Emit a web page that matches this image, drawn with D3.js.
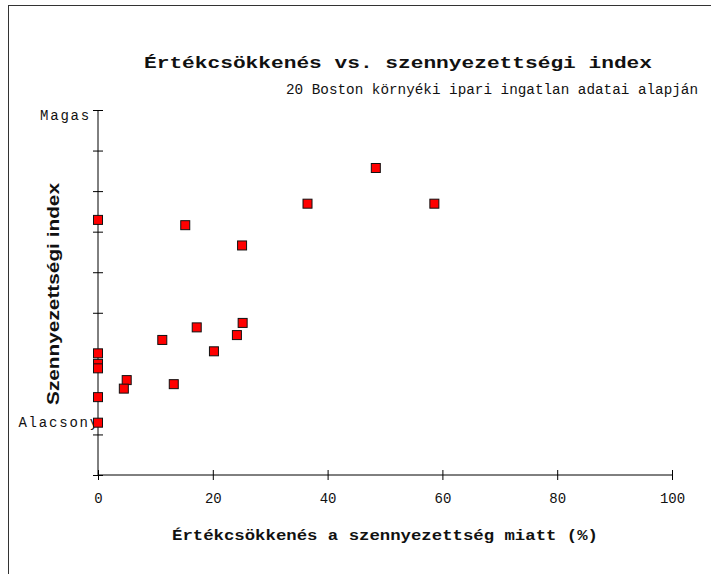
<!DOCTYPE html>
<html>
<head>
<meta charset="utf-8">
<script src="https://cdn.jsdelivr.net/npm/d3@7"></script>
<style>
	body { margin: 0; background: #fff; }
	svg { display: block; }
</style>
</head>
<body>
<div id="chart"></div>
<script>
"use strict";
// adatok
const lossPct = [0, 15.2, 25.1, 36.5, 48.4, 58.6, 17.2, 25.2, 24.2, 11.2, 20.2, 0, 0, 0, 5.0, 4.5, 13.2, 0, 0];
const pollution = [6.29, 6.16, 5.66, 6.69, 7.57, 6.69, 3.64, 3.75, 3.45, 3.33, 3.05, 3.00, 2.74, 2.63, 2.34, 2.13, 2.24, 1.92, 1.29];
const xTicks = [0, 20, 40, 60, 80, 100];
const yTicks = [0, 1, 2, 3, 4, 5, 6, 7, 8, 9];
const yLabels = [{ v: 8.87, text: "Magas" }, { v: 1.3, text: "Alacsony" }];

const W = 711, H = 574;
const mono = "'Liberation Mono', 'Courier New', monospace";

let svg = d3.select("#chart").append("svg")
	.attr("width", W)
	.attr("height", H);

// keret
svg.append("rect")
	.attr("x", 8.5).attr("y", 5.5)
	.attr("width", W + 10).attr("height", H + 10)
	.style("fill", "none")
	.style("stroke", "#333")
	.style("stroke-width", "1px");

let x = d3.scaleLinear().domain([0, 100]).range([98, 672]);
let y = d3.scaleLinear().domain([0, 9]).range([475, 110]);

// x tengely
let xAxis = svg.append("g")
	.attr("transform", "translate(0," + y(0) + ")")
	.call(d3.axisBottom(x).tickValues(xTicks).tickSize(5).tickPadding(13).tickFormat(d3.format("d")));
xAxis.select(".domain").attr("d", "M" + x(0) + ",0H" + x(100)).style("stroke", "#000");
xAxis.selectAll(".tick line").attr("y1", -5).attr("y2", 5).style("stroke", "#000");
xAxis.selectAll(".tick text")
	.style("font-family", mono)
	.style("font-size", "14px")
	.style("fill", "#111");

// y tengely
let yAxis = svg.append("g")
	.attr("transform", "translate(" + x(0) + ",0)")
	.call(d3.axisLeft(y).tickValues(yTicks).tickSize(5).tickFormat(""));
yAxis.select(".domain").attr("d", "M0," + y(9) + "V" + y(0)).style("stroke", "#000");
yAxis.selectAll(".tick line").attr("x1", -5).attr("x2", 5).style("stroke", "#000");

svg.selectAll(".ylab")
	.data(yLabels)
	.enter()
	.append("text")
	.attr("class", "ylab")
	.attr("x", function (d, i) { return i == 0 ? x(0) - 7 : x(0) + 2; })
	.attr("y", function (d) { return y(d.v); })
	.attr("dy", "0.35em")
	.attr("text-anchor", "end")
	.style("font-family", mono)
	.style("font-size", "14px")
	.style("letter-spacing", "1.8px")
	.style("fill", "#111")
	.text(function (d) { return d.text; });

// pontok
let pts = lossPct.map(function (v, i) { return { x: v, y: pollution[i] }; });

svg.append("g").selectAll("rect")
	.data(pts)
	.enter()
	.append("rect")
	.attr("x", function (d) { return x(d.x) - 4.5; })
	.attr("y", function (d) { return y(d.y) - 4.5; })
	.attr("width", 9)
	.attr("height", 9)
	.style("fill", "#ff0000")
	.style("stroke", "#111")
	.style("stroke-width", "1px");

// feliratok
svg.append("text")
	.attr("x", 398).attr("y", 68)
	.attr("text-anchor", "middle")
	.attr("textLength", 508)
	.attr("lengthAdjust", "spacingAndGlyphs")
	.style("font-family", mono)
	.style("font-weight", "bold")
	.style("font-size", "17px")
	.style("fill", "#111")
	.text("Értékcsökkenés vs. szennyezettségi index");

svg.append("text")
	.attr("x", 698).attr("y", 94)
	.attr("text-anchor", "end")
	.attr("textLength", 412)
	.attr("lengthAdjust", "spacingAndGlyphs")
	.style("font-family", mono)
	.style("font-size", "14px")
	.style("fill", "#111")
	.text("20 Boston környéki ipari ingatlan adatai alapján");

svg.append("text")
	.attr("x", 385).attr("y", 540)
	.attr("text-anchor", "middle")
	.attr("textLength", 426)
	.attr("lengthAdjust", "spacingAndGlyphs")
	.style("font-family", mono)
	.style("font-weight", "bold")
	.style("font-size", "14px")
	.style("fill", "#111")
	.text("Értékcsökkenés a szennyezettség miatt (%)");

svg.append("text")
	.attr("transform", "translate(59,294) rotate(-90)")
	.attr("text-anchor", "middle")
	.attr("textLength", 222)
	.attr("lengthAdjust", "spacingAndGlyphs")
	.style("font-family", "'Liberation Sans', Arial, sans-serif")
	.style("font-weight", "bold")
	.style("font-size", "17px")
	.style("fill", "#111")
	.text("Szennyezettségi index");
</script>
</body>
</html>
